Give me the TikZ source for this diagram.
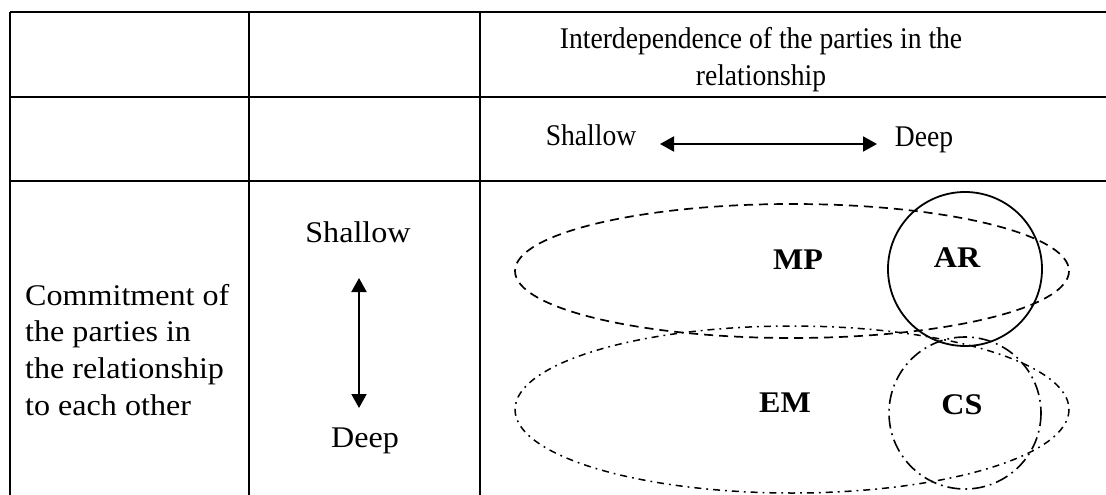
\documentclass[tikz,border=0pt]{standalone}
\usepackage{fontspec}
\setmainfont{Liberation Serif}
\usetikzlibrary{arrows.meta,shapes.geometric}
\tikzset{
  grid/.style={line width=2pt},
  txt/.style={inner sep=0pt, font=\fontsize{30}{36.7}\selectfont},
  lbl/.style={inner sep=0pt, font=\fontsize{30}{36}\selectfont\bfseries},
  dbl/.style={line width=2pt, {Triangle[length=14pt,width=15pt]}-{Triangle[length=14pt,width=15pt]}},
  mpstyle/.style={line width=1.7pt, dash pattern=on 9pt off 6pt},
  emstyle/.style={line width=1.5pt, dash pattern=on 7pt off 5pt on 1.8pt off 5pt},
  csstyle/.style={line width=1.6pt, dash pattern=on 13pt off 5pt on 1.8pt off 5pt},
  arstyle/.style={line width=1.8pt}
}
\newcommand{\cond}[1]{\scalebox{0.92}[1]{#1}}
\newcommand{\wid}[1]{\scalebox{1.07}[1]{#1}}
\begin{document}
\begin{tikzpicture}[x=1pt,y=-1pt]
\useasboundingbox (0,0) rectangle (1106,495);
% table
\draw[grid] (10,12) -- (1106,12);
\draw[grid] (10,97) -- (1106,97);
\draw[grid] (10,181) -- (1106,181);
\draw[grid] (10,12) -- (10,495);
\draw[grid] (249,12) -- (249,495);
\draw[grid] (480,12) -- (480,495);
% header texts
\node[txt, anchor=base] (h1) at (761,49) {\cond{Interdependence of the parties in the}};
\node[txt, anchor=base] (h2) at (761,85) {\cond{relationship}};
\node[txt, anchor=base] (hs) at (591,145) {\cond{Shallow}};
\node[txt, anchor=base] (hd) at (924,146) {\cond{Deep}};
\coordinate (hl) at (660,144);
\coordinate (hr) at (877,144);
\draw[dbl] (hl) -- (hr);
% left texts
\node[txt, anchor=base west] (c1) at (25,305) {\wid{Commitment of}};
\node[txt, anchor=base west] (c2) at (25,341) {\wid{the parties in}};
\node[txt, anchor=base west] (c3) at (25,378) {\wid{the relationship}};
\node[txt, anchor=base west] (c4) at (25,415) {\wid{to each other}};
\node[txt, anchor=base] (vs) at (358,242) {\wid{Shallow}};
\node[txt, anchor=base] (vd) at (365,447) {\wid{Deep}};
\coordinate (vt) at (359,278);
\coordinate (vb) at (359,408);
\draw[dbl] (vt) -- (vb);
% shapes
\draw[mpstyle] (792,271) ellipse [x radius=277, y radius=67];
\draw[emstyle] (792,409.5) ellipse [x radius=277, y radius=83.5];
\draw[arstyle] (965,269) circle [radius=77];
\draw[csstyle] (965,413) circle [radius=76];
% labels
\node[lbl] (mp) at (798,260) {\wid{MP}};
\node[lbl] (ar) at (957,258) {\wid{AR}};
\node[lbl] (em) at (785,403) {\wid{EM}};
\node[lbl] (cs) at (962,405) {\wid{CS}};
\end{tikzpicture}
\end{document}
